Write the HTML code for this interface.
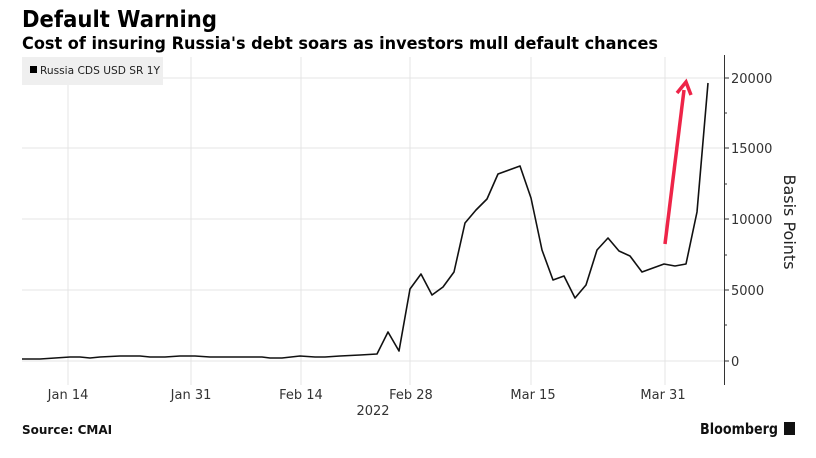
<!DOCTYPE html>
<html><head><meta charset="utf-8"><style>body{margin:0;background:#fff}svg{display:block}</style></head><body>
<svg width="816" height="458" viewBox="0 0 816 458" xmlns="http://www.w3.org/2000/svg" font-family="'DejaVu Sans','Liberation Sans',sans-serif">
<text x="22" y="27" font-size="23" font-weight="bold" fill="#000" textLength="195" lengthAdjust="spacingAndGlyphs">Default Warning</text>
<text x="22" y="49" font-size="16.5" font-weight="bold" fill="#000" textLength="636" lengthAdjust="spacingAndGlyphs">Cost of insuring Russia's debt soars as investors mull default chances</text>
<g stroke="#e4e4e4" stroke-width="1">
<line x1="68" y1="57" x2="68" y2="385"/><line x1="191" y1="57" x2="191" y2="385"/><line x1="301" y1="57" x2="301" y2="385"/><line x1="410" y1="57" x2="410" y2="385"/><line x1="531" y1="57" x2="531" y2="385"/><line x1="665" y1="57" x2="665" y2="385"/>
<line x1="22" y1="78" x2="724" y2="78"/><line x1="22" y1="148" x2="724" y2="148"/><line x1="22" y1="219" x2="724" y2="219"/><line x1="22" y1="290" x2="724" y2="290"/><line x1="22" y1="361" x2="724" y2="361"/>
</g>
<rect x="22" y="57" width="141" height="28" fill="#efefef"/>
<rect x="30" y="66" width="7" height="7" fill="#000"/>
<text x="40" y="74" font-size="11" fill="#222" textLength="120" lengthAdjust="spacingAndGlyphs">Russia CDS USD SR 1Y</text>
<line x1="724.5" y1="55" x2="724.5" y2="385" stroke="#333" stroke-width="1"/>
<g stroke="#333"><line x1="724" y1="78" x2="729" y2="78"/><line x1="724" y1="148" x2="729" y2="148"/><line x1="724" y1="219" x2="729" y2="219"/><line x1="724" y1="290" x2="729" y2="290"/><line x1="724" y1="361" x2="729" y2="361"/>
<line x1="724" y1="113" x2="727" y2="113"/><line x1="724" y1="184" x2="727" y2="184"/><line x1="724" y1="255" x2="727" y2="255"/><line x1="724" y1="325" x2="727" y2="325"/></g>
<g font-size="13" fill="#333">
<text x="731" y="83">20000</text><text x="731" y="153">15000</text><text x="731" y="224">10000</text><text x="731" y="295">5000</text><text x="731" y="366">0</text>
<text x="68" y="399" text-anchor="middle">Jan 14</text><text x="191" y="399" text-anchor="middle">Jan 31</text><text x="301" y="399" text-anchor="middle">Feb 14</text><text x="411" y="399" text-anchor="middle">Feb 28</text><text x="533" y="399" text-anchor="middle">Mar 15</text><text x="663" y="399" text-anchor="middle">Mar 31</text>
<text x="373" y="415" text-anchor="middle">2022</text>
</g>
<text transform="translate(784,222) rotate(90)" font-size="16" fill="#222" text-anchor="middle">Basis Points</text>
<polyline fill="none" stroke="#111" stroke-width="1.6" stroke-linejoin="round" points="22,359 40,359 55,358 70,357 80,357 90,358 100,357 120,356 140,356 150,357 165,357 180,356 195,356 210,357 240,357 262,357 270,358 282,358 300,356 315,357 325,357 340,356 360,355 377,354 388,332 399,351 410,289 421,274 432,295 443,287 454,272 465,223 476,210 487,199 498,174 509,170 520,166 531,198 542,250 553,280 564,276 575,298 586,285 597,250 608,238 619,251 630,256 642,272 653,268 664,264 675,266 686,264 697,212 708,83"/>
<line x1="665" y1="244" x2="684" y2="90" stroke="#ee2448" stroke-width="3.5"/>
<polyline points="677,93 686,82 691,95" fill="none" stroke="#ee2448" stroke-width="3.5"/>
<text x="22" y="434" font-size="12" font-weight="bold" fill="#111">Source: CMAI</text>
<text x="700" y="434" font-size="15" font-weight="bold" fill="#111" textLength="78" lengthAdjust="spacingAndGlyphs">Bloomberg</text>
<rect x="784" y="422" width="11" height="13" fill="#111"/>
</svg>
</body></html>
